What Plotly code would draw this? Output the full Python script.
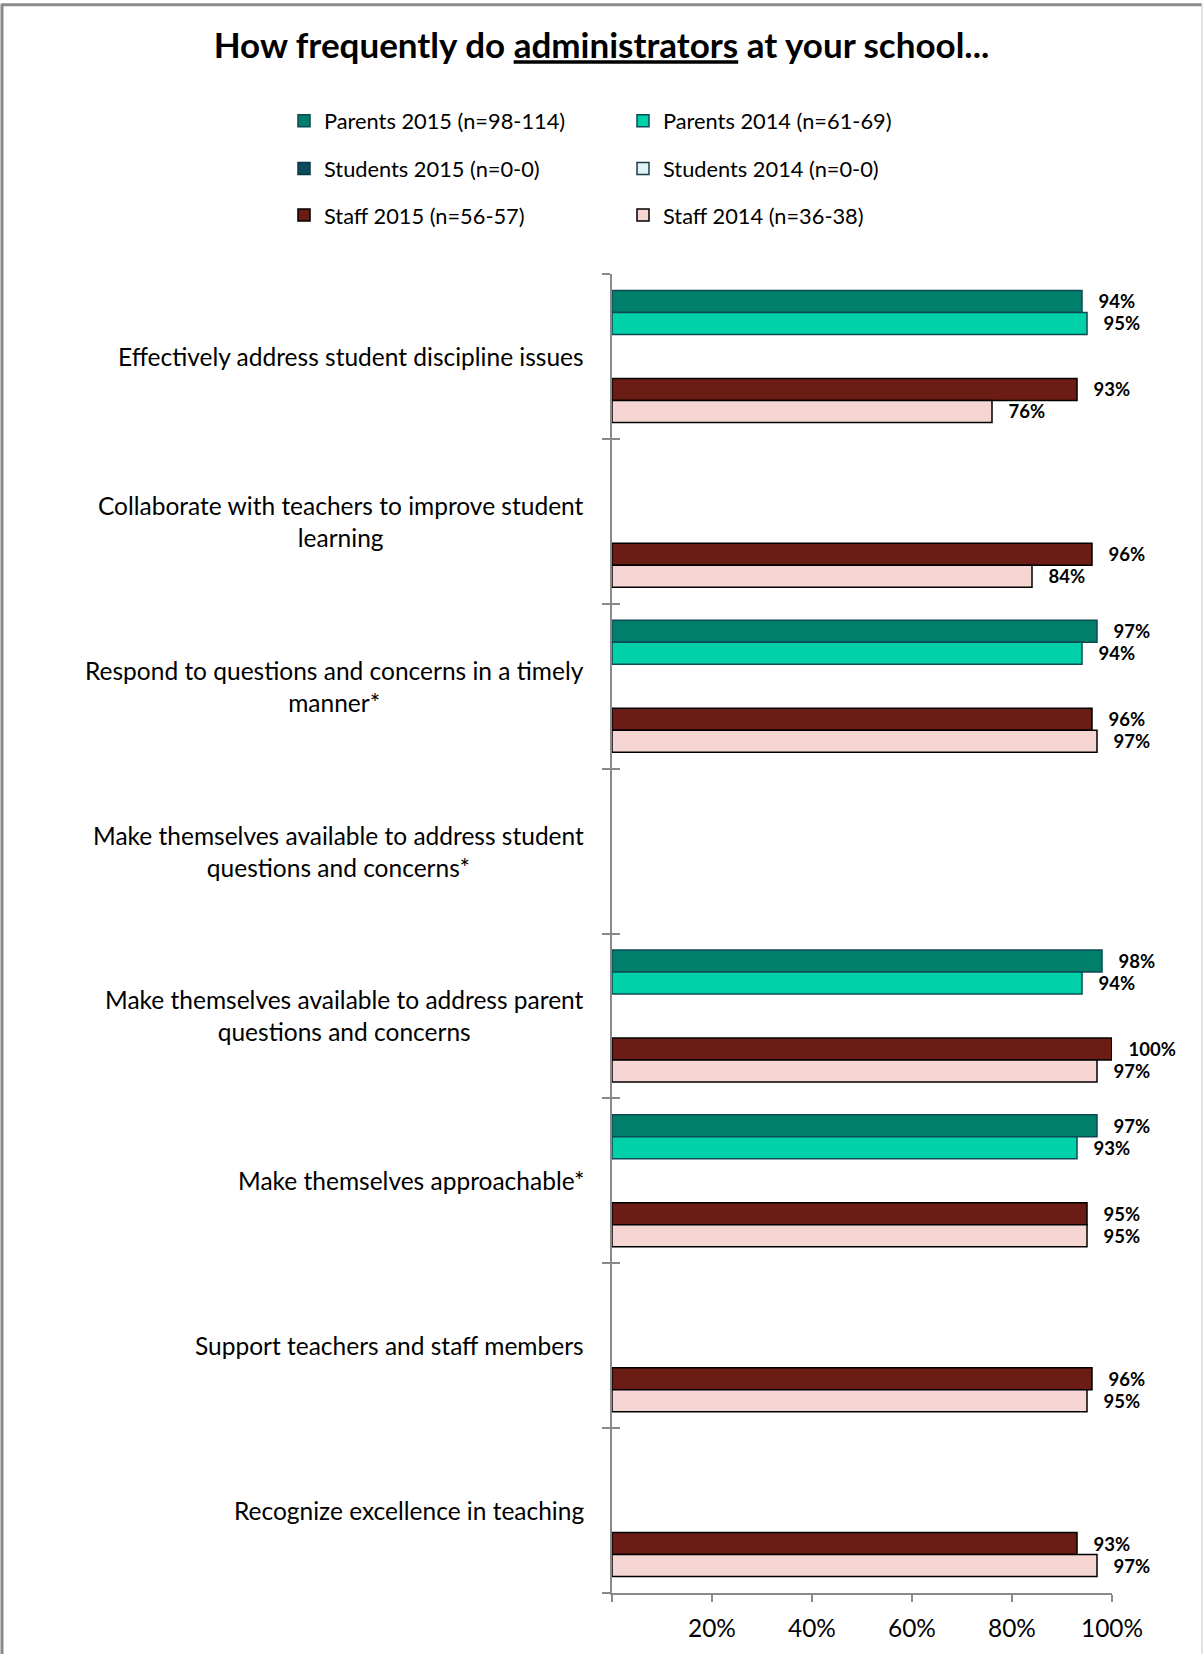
import plotly.graph_objects as go

categories = [
    "Effectively address student discipline issues",
    "Collaborate with teachers to improve student<br>learning",
    "Respond to questions and concerns in a timely<br>manner*",
    "Make themselves available to address student<br>questions and concerns*",
    "Make themselves available to address parent<br>questions and concerns",
    "Make themselves approachable*",
    "Support teachers and staff members",
    "Recognize excellence in teaching",
]
series_names = [
    "Parents 2015 (n=98-114)",
    "Parents 2014 (n=61-69)",
    "Students 2015 (n=0-0)",
    "Students 2014 (n=0-0)",
    "Staff 2015 (n=56-57)",
    "Staff 2014 (n=36-38)",
]
parents_2015 = [94, None, 97, None, 98, 97, None, None]
parents_2014 = [95, None, 94, None, 94, 93, None, None]
students_2015 = [None] * 8
students_2014 = [None] * 8
staff_2015 = [93, 96, 96, None, 100, 95, 96, 93]
staff_2014 = [76, 84, 97, None, 97, 95, 95, 97]
tick_vals = [0, 20, 40, 60, 80, 100]
tick_text = ["", "20%", "40%", "60%", "80%", "100%"]

values = [parents_2015, parents_2014, students_2015, students_2014, staff_2015, staff_2014]
fills = ["#00806A", "#00D1A8", "#0C4A5E", "#DDF3F8", "#6B1D15", "#F6D6D3"]
edges = ["#0D4A55", "#0D4A55", "#0A3545", "#1E3A45", "#000000", "#000000"]
legend_ids = ["legend", "legend", "legend2", "legend2", "legend3", "legend3"]

FONT = "Lato"
W, H = 1203, 1654
L, R, T, B = 612, 91, 274, 52
PW, PH = W - L - R, H - T - B


def px_x(p):
    return (p - L) / PW


def px_y(p):
    return (H - B - p) / PH


idx = list(range(len(categories)))
fig = go.Figure()
for name, vals, fc, ec, lg in zip(series_names, values, fills, edges, legend_ids):
    fig.add_trace(go.Bar(
        name=name, y=idx, x=vals, orientation="h",
        marker=dict(color=fc, line=dict(color=ec, width=1.5)),
        text=[None if v is None else f"\u00a0\u00a0\u00a0{v}%" for v in vals],
        textposition="outside", constraintext="none", cliponaxis=False,
        textfont=dict(family=FONT, size=18.5, color="black", weight="bold"),
        legend=lg,
    ))

# invisible trace carrying the inner half of the crossing category ticks
fig.add_trace(go.Scatter(y=idx, x=[None] * len(idx), yaxis="y2", mode="markers",
                         showlegend=False, hoverinfo="skip"))

for i, c in enumerate(categories):
    fig.add_annotation(x=px_x(586), xref="paper", y=i, yref="y", text=c,
                       xanchor="right", yanchor="middle", align="center",
                       showarrow=False, font=dict(family=FONT, size=24.5, color="black"))

# frame
fig.add_shape(type="line", xref="paper", yref="paper", x0=px_x(2), x1=px_x(2),
              y0=px_y(H + 10), y1=px_y(2), line=dict(color="#8a8a8a", width=3))
fig.add_shape(type="line", xref="paper", yref="paper", x0=px_x(2), x1=px_x(1202),
              y0=px_y(3), y1=px_y(3), line=dict(color="#8a8a8a", width=3))
fig.add_shape(type="line", xref="paper", yref="paper", x0=px_x(1202), x1=px_x(1202),
              y0=px_y(H + 10), y1=px_y(2), line=dict(color="#d9d9d9", width=1.5))

leg_common = dict(orientation="h", entrywidth=294, xanchor="left", yanchor="middle",
                  font=dict(family=FONT, size=21.8, color="black"), bgcolor="rgba(0,0,0,0)",
                  itemclick=False, itemdoubleclick=False)
fig.update_layout(
    width=W, height=H,
    margin=dict(l=L, r=R, t=T, b=B),
    paper_bgcolor="white", plot_bgcolor="white",
    barmode="group", bargap=0.2, bargroupgap=0,
    title=dict(text="How frequently do <u>administrators</u> at your school...",
               x=0.5, xref="container", xanchor="center", y=1 - 46 / H, yanchor="middle",
               font=dict(family=FONT, size=35, color="black", weight="bold")),
    legend=dict(x=px_x(284), y=px_y(120), **leg_common),
    legend2=dict(x=px_x(284), y=px_y(168), **leg_common),
    legend3=dict(x=px_x(284), y=px_y(215), **leg_common),
    xaxis=dict(range=[0, 100], tickvals=tick_vals, ticktext=tick_text,
               showline=True, linecolor="#8a8a8a", linewidth=1.5,
               ticks="outside", ticklen=7, tickcolor="#8a8a8a", tickwidth=1.5,
               showgrid=False, zeroline=False, ticklabelstandoff=6,
               tickfont=dict(family=FONT, size=24.4, color="black")),
    yaxis=dict(range=[len(categories) - 0.5, -0.5], tickvals=[i - 0.5 for i in idx] + [len(idx) - 0.5],
               showticklabels=False, showline=True, linecolor="#8a8a8a", linewidth=1.5,
               ticks="outside", ticklen=8, tickcolor="#8a8a8a", tickwidth=1.5,
               showgrid=False, zeroline=False),
    yaxis2=dict(overlaying="y", side="left", range=[len(categories) - 0.5, -0.5],
                tickvals=[i - 0.5 for i in idx] + [len(idx) - 0.5],
                showticklabels=False, showline=False, ticks="inside", ticklen=8,
                tickcolor="#8a8a8a", tickwidth=1.5, showgrid=False, zeroline=False),
    showlegend=True,
)
fig.write_html("out.html", config={"displayModeBar": False},
               post_script="document.body.style.margin='0';document.body.style.padding='0';")
